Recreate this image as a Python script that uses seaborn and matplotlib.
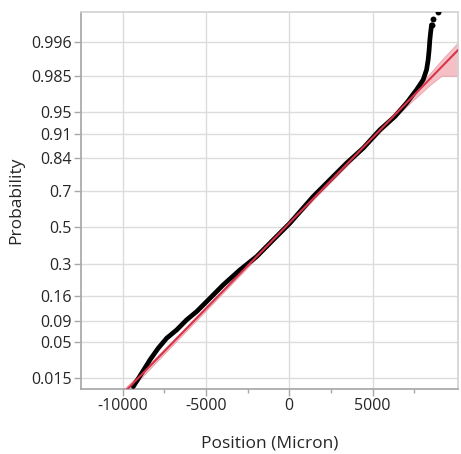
from statistics import NormalDist
import matplotlib
matplotlib.use("Agg")
import matplotlib.pyplot as plt
import pandas as pd
import seaborn as sns

# sorted sample (micron) with the plotting probability of each point
position = [-9360, -8856, -8358, -7860, -7356, -6756, -6156, -5556, -4956, -3960,
            -2958, -1956, -960, 42, 1440, 2442, 3444, 4440, 5442, 6342,
            7044, 7644, 8040, 8244, 8340, 8400, 8442, 8484, 8544, 8640, 8922]
probability = [0.0111, 0.0181, 0.0285, 0.0413, 0.0556, 0.0702, 0.0918, 0.1130, 0.1428, 0.2038,
               0.2699, 0.3365, 0.4278, 0.5227, 0.6697, 0.7514, 0.8207, 0.8714, 0.9186, 0.9437,
               0.9624, 0.9756, 0.9827, 0.9880, 0.9918, 0.99452, 0.99640, 0.99731, 0.99815, 0.99856, 0.99897]

# fitted normal
fit_mean = -230
fit_sd = 4080

# confidence band half widths (normal-quantile units) around the fitted line
band_x = [-12500, -9800, -8000, -6000, -4000, -2000, 0, 2000, 4000, 6000, 7500, 8500, 9150, 10150]
band_below = [0.06, 0.05, 0.035, 0.03, 0.025, 0.02, 0.02, 0.02, 0.025, 0.035, 0.06, 0.09, 0.126, 0.374]
band_above = [0.06, 0.05, 0.035, 0.03, 0.025, 0.02, 0.02, 0.02, 0.025, 0.035, 0.06, 0.08, 0.10, 0.11]

y_ticks = [0.015, 0.05, 0.09, 0.16, 0.3, 0.5, 0.7, 0.84, 0.91, 0.95, 0.985, 0.996]
x_major = [-10000, -5000, 0, 5000]
x_minor = [-7500, -2500, 2500, 7500]
x_range = [-12500, 10150]
p_range = [0.01, 0.999]

nd = NormalDist()
df = pd.DataFrame({"Position": position, "z": [nd.inv_cdf(p) for p in probability]})
fit = pd.DataFrame({"Position": x_range,
                    "z": [(x - fit_mean) / fit_sd for x in x_range]})
line_z = [(x - fit_mean) / fit_sd for x in band_x]
lo = [z - w for z, w in zip(line_z, band_below)]
hi = [z + w for z, w in zip(line_z, band_above)]

sns.set_theme(style="white")
plt.rcParams['font.family'] = ['Open Sans', 'DejaVu Sans']

fig = plt.figure(figsize=(4.61, 4.54), dpi=100)
ax = fig.add_axes([81 / 461, 1 - 389.3 / 454, 377.3 / 461, 377.6 / 454])

ax.fill_between(band_x, lo, hi, color='#f3b9c0', alpha=0.9, linewidth=0.6,
                edgecolor='#e89aa5', zorder=2)
sns.lineplot(x="Position", y="z", data=df.iloc[:-2], color='black', linewidth=3.4,
             sort=False, ax=ax, zorder=3)
sns.scatterplot(x="Position", y="z", data=df.iloc[-3:], color='black', s=18,
                linewidth=0, ax=ax, zorder=3)
sns.lineplot(x="Position", y="z", data=fit, color='#d8344a', linewidth=1.5,
             ax=ax, zorder=4)

ax.set_xlim(*x_range)
ax.set_ylim(nd.inv_cdf(p_range[0]), nd.inv_cdf(p_range[1]))
ax.set_yticks([nd.inv_cdf(p) for p in y_ticks])
ax.set_yticklabels([str(p) for p in y_ticks])
ax.set_xticks(x_major)
ax.set_xticks(x_minor, minor=True)
ax.set_xticklabels([str(v) for v in x_major])

ax.grid(True, which='major', color='#dcdcdc', linewidth=1.0)
ax.set_axisbelow(True)
for side in ['left', 'bottom']:
    ax.spines[side].set_color('#a8a8a8')
for side in ['top', 'right']:
    ax.spines[side].set_color('#d4d4d4')
ax.tick_params(axis='y', which='major', left=True, length=5, width=1, color='#a8a8a8',
               pad=1.5, labelsize=11.5, labelcolor='#262626')
ax.tick_params(axis='x', which='major', bottom=True, length=5, width=1, color='#a8a8a8',
               pad=1.0, labelsize=11.5, labelcolor='#262626')
ax.tick_params(axis='x', which='minor', bottom=True, length=3, width=1, color='#a8a8a8')

ax.set_xlabel("Position (Micron)", fontsize=12.5, color='#262626', labelpad=15.5)
ax.set_ylabel("Probability", fontsize=12.5, color='#262626', labelpad=5)

plt.savefig('out.png', dpi=100)
